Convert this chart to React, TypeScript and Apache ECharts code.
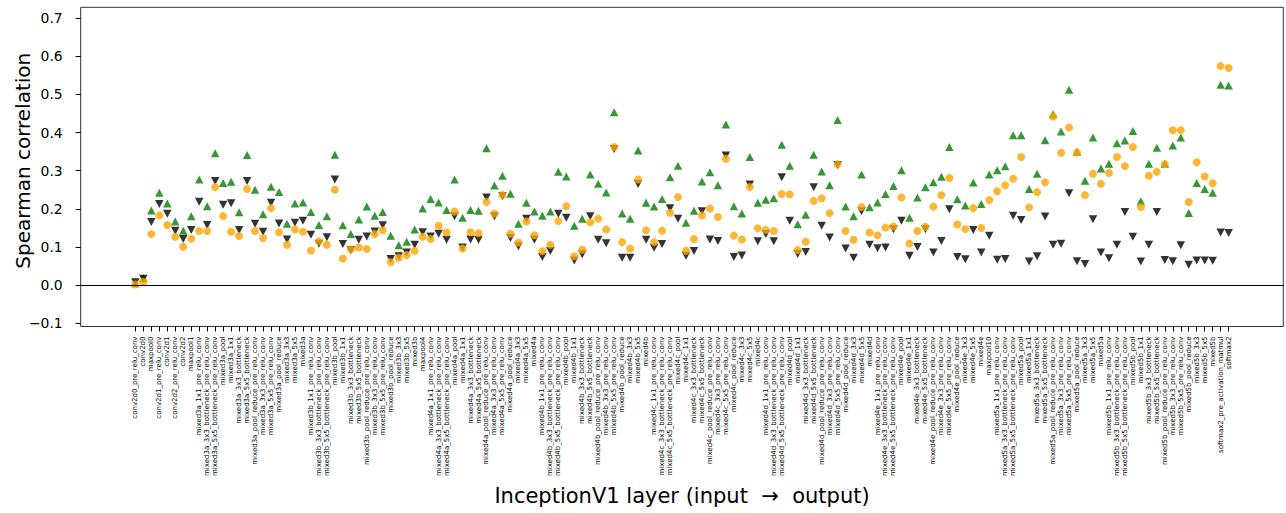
import React, { useEffect, useRef } from 'react';
import * as echarts from 'echarts';

const categories: string[] = [
  'conv2d0_pre_relu_conv', 'conv2d0', 'maxpool0', 'conv2d1_pre_relu_conv', 'conv2d1', 'conv2d2_pre_relu_conv', 'conv2d2', 'maxpool1',
  'mixed3a_1x1_pre_relu_conv', 'mixed3a_3x3_bottleneck_pre_relu_conv', 'mixed3a_5x5_bottleneck_pre_relu_conv', 'mixed3a_pool', 'mixed3a_1x1', 'mixed3a_3x3_bottleneck', 'mixed3a_5x5_bottleneck', 'mixed3a_pool_reduce_pre_relu_conv', 'mixed3a_3x3_pre_relu_conv', 'mixed3a_5x5_pre_relu_conv', 'mixed3a_pool_reduce', 'mixed3a_3x3', 'mixed3a_5x5', 'mixed3a',
  'mixed3b_1x1_pre_relu_conv', 'mixed3b_3x3_bottleneck_pre_relu_conv', 'mixed3b_5x5_bottleneck_pre_relu_conv', 'mixed3b_pool', 'mixed3b_1x1', 'mixed3b_3x3_bottleneck', 'mixed3b_5x5_bottleneck', 'mixed3b_pool_reduce_pre_relu_conv', 'mixed3b_3x3_pre_relu_conv', 'mixed3b_5x5_pre_relu_conv', 'mixed3b_pool_reduce', 'mixed3b_3x3', 'mixed3b_5x5', 'mixed3b',
  'maxpool4',
  'mixed4a_1x1_pre_relu_conv', 'mixed4a_3x3_bottleneck_pre_relu_conv', 'mixed4a_5x5_bottleneck_pre_relu_conv', 'mixed4a_pool', 'mixed4a_1x1', 'mixed4a_3x3_bottleneck', 'mixed4a_5x5_bottleneck', 'mixed4a_pool_reduce_pre_relu_conv', 'mixed4a_3x3_pre_relu_conv', 'mixed4a_5x5_pre_relu_conv', 'mixed4a_pool_reduce', 'mixed4a_3x3', 'mixed4a_5x5', 'mixed4a',
  'mixed4b_1x1_pre_relu_conv', 'mixed4b_3x3_bottleneck_pre_relu_conv', 'mixed4b_5x5_bottleneck_pre_relu_conv', 'mixed4b_pool', 'mixed4b_1x1', 'mixed4b_3x3_bottleneck', 'mixed4b_5x5_bottleneck', 'mixed4b_pool_reduce_pre_relu_conv', 'mixed4b_3x3_pre_relu_conv', 'mixed4b_5x5_pre_relu_conv', 'mixed4b_pool_reduce', 'mixed4b_3x3', 'mixed4b_5x5', 'mixed4b',
  'mixed4c_1x1_pre_relu_conv', 'mixed4c_3x3_bottleneck_pre_relu_conv', 'mixed4c_5x5_bottleneck_pre_relu_conv', 'mixed4c_pool', 'mixed4c_1x1', 'mixed4c_3x3_bottleneck', 'mixed4c_5x5_bottleneck', 'mixed4c_pool_reduce_pre_relu_conv', 'mixed4c_3x3_pre_relu_conv', 'mixed4c_5x5_pre_relu_conv', 'mixed4c_pool_reduce', 'mixed4c_3x3', 'mixed4c_5x5', 'mixed4c',
  'mixed4d_1x1_pre_relu_conv', 'mixed4d_3x3_bottleneck_pre_relu_conv', 'mixed4d_5x5_bottleneck_pre_relu_conv', 'mixed4d_pool', 'mixed4d_1x1', 'mixed4d_3x3_bottleneck', 'mixed4d_5x5_bottleneck', 'mixed4d_pool_reduce_pre_relu_conv', 'mixed4d_3x3_pre_relu_conv', 'mixed4d_5x5_pre_relu_conv', 'mixed4d_pool_reduce', 'mixed4d_3x3', 'mixed4d_5x5', 'mixed4d',
  'mixed4e_1x1_pre_relu_conv', 'mixed4e_3x3_bottleneck_pre_relu_conv', 'mixed4e_5x5_bottleneck_pre_relu_conv', 'mixed4e_pool', 'mixed4e_1x1', 'mixed4e_3x3_bottleneck', 'mixed4e_5x5_bottleneck', 'mixed4e_pool_reduce_pre_relu_conv', 'mixed4e_3x3_pre_relu_conv', 'mixed4e_5x5_pre_relu_conv', 'mixed4e_pool_reduce', 'mixed4e_3x3', 'mixed4e_5x5', 'mixed4e',
  'maxpool10',
  'mixed5a_1x1_pre_relu_conv', 'mixed5a_3x3_bottleneck_pre_relu_conv', 'mixed5a_5x5_bottleneck_pre_relu_conv', 'mixed5a_pool', 'mixed5a_1x1', 'mixed5a_3x3_bottleneck', 'mixed5a_5x5_bottleneck', 'mixed5a_pool_reduce_pre_relu_conv', 'mixed5a_3x3_pre_relu_conv', 'mixed5a_5x5_pre_relu_conv', 'mixed5a_pool_reduce', 'mixed5a_3x3', 'mixed5a_5x5', 'mixed5a',
  'mixed5b_1x1_pre_relu_conv', 'mixed5b_3x3_bottleneck_pre_relu_conv', 'mixed5b_5x5_bottleneck_pre_relu_conv', 'mixed5b_pool', 'mixed5b_1x1', 'mixed5b_3x3_bottleneck', 'mixed5b_5x5_bottleneck', 'mixed5b_pool_reduce_pre_relu_conv', 'mixed5b_3x3_pre_relu_conv', 'mixed5b_5x5_pre_relu_conv', 'mixed5b_pool_reduce', 'mixed5b_3x3', 'mixed5b_5x5', 'mixed5b',
  'softmax2_pre_activation_matmul', 'softmax2',
];

// green up-triangles
const greenValues: number[] = [
  0.005, 0.019, 0.196, 0.242, 0.214, 0.167, 0.143, 0.181,
  0.277, 0.207, 0.346, 0.268, 0.271, 0.191, 0.341, 0.250, 0.186, 0.258, 0.244, 0.161, 0.214, 0.217,
  0.192, 0.158, 0.181, 0.342, 0.157, 0.134, 0.172, 0.206, 0.182, 0.192, 0.130, 0.105, 0.114, 0.146,
  0.201,
  0.226, 0.217, 0.197, 0.277, 0.177, 0.197, 0.195, 0.359, 0.261, 0.287, 0.240, 0.161, 0.216, 0.193,
  0.182, 0.193, 0.297, 0.285, 0.156, 0.174, 0.290, 0.266, 0.243, 0.453, 0.188, 0.174, 0.353, 0.216,
  0.206, 0.226, 0.283, 0.313, 0.164, 0.195, 0.272, 0.296, 0.262, 0.421, 0.207, 0.188, 0.336, 0.216,
  0.224, 0.228, 0.368, 0.313, 0.160, 0.185, 0.342, 0.298, 0.262, 0.433, 0.206, 0.181, 0.290, 0.204,
  0.217, 0.239, 0.260, 0.301, 0.177, 0.230, 0.257, 0.270, 0.284, 0.362, 0.225, 0.209, 0.269, 0.213,
  0.290,
  0.301, 0.312, 0.393, 0.393, 0.252, 0.292, 0.380, 0.448, 0.403, 0.512, 0.350, 0.274, 0.387, 0.306,
  0.318, 0.372, 0.379, 0.404, 0.220, 0.318, 0.360, 0.318, 0.366, 0.387, 0.189, 0.268, 0.252, 0.242,
  0.525, 0.523,
];

// black down-triangles
const blackValues: number[] = [
  0.008, 0.017, 0.166, 0.213, 0.187, 0.143, 0.121, 0.145,
  0.219, 0.158, 0.273, 0.211, 0.215, 0.145, 0.273, 0.161, 0.140, 0.216, 0.162, 0.120, 0.164, 0.169,
  0.132, 0.109, 0.126, 0.277, 0.108, 0.092, 0.119, 0.128, 0.141, 0.157, 0.069, 0.076, 0.086, 0.106,
  0.139,
  0.128, 0.135, 0.119, 0.181, 0.099, 0.120, 0.119, 0.230, 0.181, 0.233, 0.124, 0.102, 0.174, 0.119,
  0.074, 0.090, 0.187, 0.177, 0.065, 0.081, 0.181, 0.119, 0.110, 0.357, 0.072, 0.072, 0.265, 0.119,
  0.098, 0.108, 0.202, 0.174, 0.077, 0.090, 0.194, 0.120, 0.116, 0.340, 0.074, 0.078, 0.264, 0.115,
  0.134, 0.115, 0.283, 0.169, 0.082, 0.087, 0.257, 0.156, 0.125, 0.315, 0.096, 0.072, 0.194, 0.106,
  0.097, 0.099, 0.147, 0.169, 0.077, 0.100, 0.147, 0.086, 0.116, 0.199, 0.074, 0.068, 0.145, 0.086,
  0.130,
  0.067, 0.069, 0.182, 0.171, 0.062, 0.076, 0.180, 0.106, 0.109, 0.241, 0.063, 0.056, 0.173, 0.086,
  0.071, 0.106, 0.192, 0.127, 0.062, 0.106, 0.192, 0.066, 0.063, 0.105, 0.054, 0.065, 0.065, 0.064,
  0.138, 0.137,
];

// orange circles
const orangeValues: number[] = [
  0.002, 0.009, 0.134, 0.183, 0.158, 0.127, 0.101, 0.122,
  0.142, 0.142, 0.257, 0.181, 0.140, 0.129, 0.252, 0.142, 0.124, 0.202, 0.139, 0.106, 0.146, 0.140,
  0.091, 0.115, 0.106, 0.250, 0.070, 0.094, 0.099, 0.095, 0.134, 0.144, 0.060, 0.072, 0.079, 0.090,
  0.127,
  0.121, 0.156, 0.138, 0.193, 0.096, 0.139, 0.136, 0.218, 0.188, 0.236, 0.135, 0.112, 0.167, 0.131,
  0.089, 0.106, 0.168, 0.207, 0.076, 0.093, 0.165, 0.174, 0.146, 0.362, 0.113, 0.096, 0.277, 0.144,
  0.113, 0.143, 0.190, 0.231, 0.090, 0.121, 0.183, 0.201, 0.179, 0.331, 0.130, 0.120, 0.257, 0.149,
  0.145, 0.142, 0.239, 0.238, 0.092, 0.114, 0.221, 0.228, 0.189, 0.317, 0.142, 0.119, 0.205, 0.138,
  0.131, 0.151, 0.154, 0.230, 0.109, 0.142, 0.153, 0.206, 0.236, 0.281, 0.159, 0.147, 0.202, 0.150,
  0.223,
  0.246, 0.262, 0.279, 0.336, 0.204, 0.244, 0.270, 0.442, 0.347, 0.413, 0.348, 0.236, 0.292, 0.266,
  0.294, 0.336, 0.312, 0.362, 0.205, 0.287, 0.297, 0.317, 0.406, 0.406, 0.218, 0.322, 0.285, 0.267,
  0.574, 0.569,
];

const yTickMin = -0.1;
const yTickMax = 0.7;
const yTickStep = 0.1;

const FONT = 'DejaVu Sans';

export default function App() {
  const ref = useRef<HTMLDivElement>(null);

  useEffect(() => {
    if (!ref.current) return;
    const chart = echarts.init(ref.current, undefined, { renderer: 'svg' });

    const W = 1286;
    const H = 513;
    const plotLeft = 80.7;
    const plotRight = 2.7;
    const plotTop = 7.3;
    const plotBottom = 186.5;
    const n = categories.length;
    const pad = 0.05 * (n - 1);
    const xMin = -pad;
    const xMax = n - 1 + pad;
    const yMin = -0.108;
    const yMax = 0.728;

    const plotW = W - plotLeft - plotRight;
    const plotH = H - plotTop - plotBottom;
    const step = plotW / (xMax - xMin);
    const pxPerUnit = plotH / (yMax - yMin);

    const catLeft = plotLeft + (0 - 0.5 - xMin) * step;
    const catWidth = n * step;
    const tickTop = plotTop + (yMax - yTickMax) * pxPerUnit;
    const tickBottom = plotBottom + (yTickMin - yMin) * pxPerUnit;

    chart.setOption({
      animation: false,
      backgroundColor: '#ffffff',
      textStyle: { fontFamily: FONT },
      grid: [
        {
          left: plotLeft,
          right: plotRight,
          top: plotTop,
          bottom: plotBottom,
          show: true,
          borderColor: '#333333',
          borderWidth: 1,
          containLabel: false,
          outerBoundsMode: 'none',
        },
        {
          left: catLeft,
          width: catWidth,
          top: plotTop,
          bottom: plotBottom,
          show: false,
          containLabel: false,
          outerBoundsMode: 'none',
        },
        {
          left: plotLeft,
          right: plotRight,
          top: tickTop,
          bottom: tickBottom,
          show: false,
          containLabel: false,
          outerBoundsMode: 'none',
        },
      ],
      xAxis: [
        {
          type: 'value',
          gridIndex: 0,
          min: xMin,
          max: xMax,
          show: false,
          splitLine: { show: false },
        },
        {
          type: 'category',
          gridIndex: 1,
          data: categories,
          boundaryGap: true,
          position: 'bottom',
          name: 'InceptionV1 layer (input  \u2192  output)',
          nameLocation: 'middle',
          nameGap: 159,
          nameMoveOverlap: false,
          nameTextStyle: { fontSize: 21, color: '#000', fontFamily: FONT },
          axisLine: { show: false, onZero: false },
          splitLine: { show: false },
          axisTick: {
            show: true,
            alignWithLabel: true,
            interval: 0,
            length: 5,
            inside: false,
            lineStyle: { color: '#000', width: 1 },
          },
          axisLabel: {
            show: true,
            interval: 0,
            rotate: 90,
            margin: 10,
            fontSize: 7,
            color: '#000',
            fontFamily: FONT,
          },
        },
        {
          type: 'value',
          gridIndex: 2,
          min: xMin,
          max: xMax,
          show: false,
          splitLine: { show: false },
        },
      ],
      yAxis: [
        {
          type: 'value',
          gridIndex: 0,
          min: yMin,
          max: yMax,
          show: false,
          splitLine: { show: false },
        },
        {
          type: 'value',
          gridIndex: 1,
          min: yMin,
          max: yMax,
          show: false,
          splitLine: { show: false },
        },
        {
          type: 'value',
          gridIndex: 2,
          min: yTickMin,
          max: yTickMax,
          interval: yTickStep,
          position: 'left',
          name: 'Spearman correlation',
          nameLocation: 'middle',
          nameGap: 48,
          nameMoveOverlap: false,
          nameTextStyle: { fontSize: 20, color: '#000', fontFamily: FONT, padding: [0, 0, 0, 20] },
          axisLine: { show: false, onZero: false },
          splitLine: { show: false },
          axisTick: {
            show: true,
            length: 5,
            inside: false,
            lineStyle: { color: '#000', width: 1 },
          },
          axisLabel: {
            show: true,
            margin: 18,
            fontSize: 13.9,
            color: '#000',
            fontFamily: FONT,
            formatter: (v: number) => (v < -1e-9 ? '\u2212' + Math.abs(v).toFixed(1) : Math.abs(v).toFixed(1)),
          },
        },
      ],
      series: [
        {
          type: 'scatter',
          name: 'green',
          xAxisIndex: 0,
          yAxisIndex: 0,
          symbol: 'triangle',
          symbolSize: [8.5, 8],
          itemStyle: { color: '#008000' },
          data: greenValues.map((v, i) => [i, v]),
          z: 2,
          markLine: {
            silent: true,
            symbol: ['none', 'none'],
            label: { show: false },
            lineStyle: { color: '#000', width: 1, type: 'solid' },
            data: [{ yAxis: 0 }],
          },
        },
        {
          type: 'scatter',
          name: 'black',
          xAxisIndex: 0,
          yAxisIndex: 0,
          symbol: 'triangle',
          symbolRotate: 180,
          symbolSize: [8.5, 8],
          itemStyle: { color: '#000000' },
          data: blackValues.map((v, i) => [i, v]),
          z: 3,
        },
        {
          type: 'scatter',
          name: 'orange',
          xAxisIndex: 0,
          yAxisIndex: 0,
          symbol: 'circle',
          symbolSize: 8,
          itemStyle: { color: '#FFA500' },
          data: orangeValues.map((v, i) => [i, v]),
          z: 4,
        },
      ],
    });
    return () => chart.dispose();
  }, []);

  return (
    <div
      ref={ref}
      style={{ position: 'fixed', left: 0, top: 0, width: 1286, height: 513 }}
    />
  );
}
